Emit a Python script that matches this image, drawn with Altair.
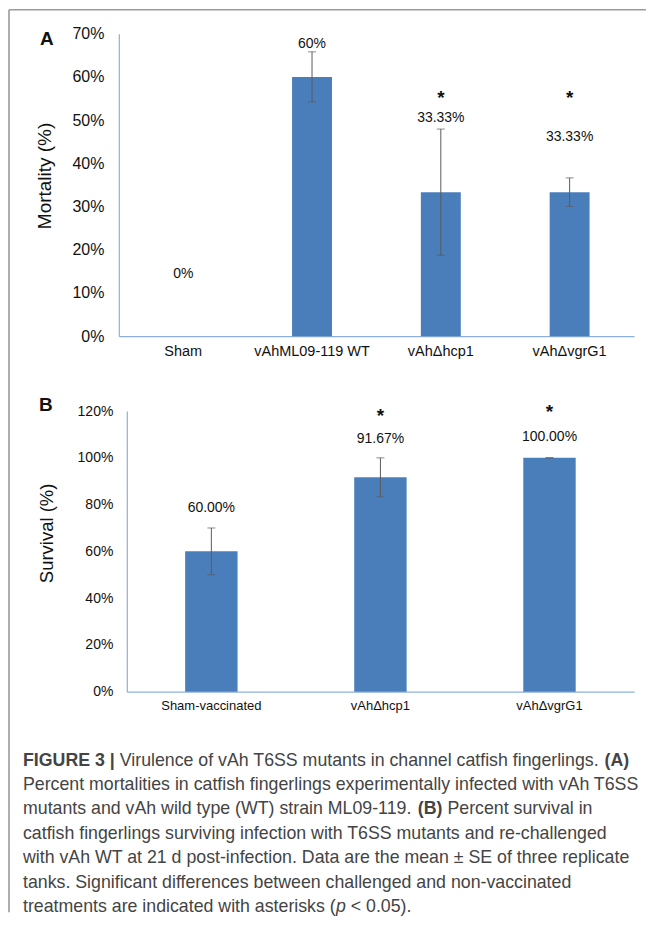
import altair as alt
import pandas as pd

# ---------------- data ----------------
a_groups = ["Sham", "vAhML09-119 WT", "vAh\u0394hcp1", "vAh\u0394vgrG1"]
a_mortality = [0.0, 60.0, 33.33, 33.33]
a_se = [0.0, 5.8, 14.6, 3.3]
a_labels = ["0%", "60%", "33.33%", "33.33%"]
a_label_at = [14.3, 67.7, 50.6, 46.0]
a_stars = ["", "", "*", "*"]
a_star_at = [0.0, 0.0, 55.0, 55.0]
a_ticks = [0, 10, 20, 30, 40, 50, 60, 70]

b_groups = ["Sham-vaccinated", "vAh\u0394hcp1", "vAh\u0394vgrG1"]
b_survival = [60.0, 91.67, 100.0]
b_se = [10.0, 8.33, 0.0]
b_labels = ["60.00%", "91.67%", "100.00%"]
b_label_at = [78.6, 108.0, 108.9]
b_stars = ["", "*", "*"]
b_star_at = [0.0, 118.0, 119.7]
b_ticks = [0, 20, 40, 60, 80, 100, 120]

caption_lines = [
    [("FIGURE 3 |", "b"), (" Virulence of vAh T6SS mutants in channel catfish fingerlings. ", "n"), ("(A)", "b")],
    [("Percent mortalities in catfish fingerlings experimentally infected with vAh T6SS", "n")],
    [("mutants and vAh wild type (WT) strain ML09-119. ", "n"), ("(B)", "b"), (" Percent survival in", "n")],
    [("catfish fingerlings surviving infection with T6SS mutants and re-challenged", "n")],
    [("with vAh WT at 21 d post-infection. Data are the mean \u00b1 SE of three replicate", "n")],
    [("tanks. Significant differences between challenged and non-vaccinated", "n")],
    [("treatments are indicated with asterisks (", "n"), ("p", "i"), (" < 0.05).", "n")],
]

# ---------------- styles ----------------
FONT = "Liberation Sans"
BAR = "#4a7ebb"
AXIS = "#8cb0dd"
ERR = "#5a5a5a"
FRAME = "#9a9a9a"
TXT = "#111111"
CAP_COLOR = "#444444"

# Arial / Helvetica advance widths (per 1000 em) used to lay out the caption runs
W_N = {' ': 278, '(': 333, ')': 333, ',': 278, '-': 333, '.': 278, '<': 584, '|': 260,
       '\u00b1': 584, '%': 889,
       'A': 667, 'B': 667, 'C': 722, 'D': 722, 'E': 667, 'F': 611, 'G': 778, 'H': 722,
       'I': 278, 'J': 500, 'K': 667, 'L': 556, 'M': 833, 'N': 722, 'O': 778, 'P': 667,
       'Q': 778, 'R': 722, 'S': 667, 'T': 611, 'U': 722, 'V': 667, 'W': 944, 'X': 667,
       'Y': 667, 'Z': 611,
       'a': 556, 'b': 556, 'c': 500, 'd': 556, 'e': 556, 'f': 278, 'g': 556, 'h': 556,
       'i': 222, 'j': 222, 'k': 500, 'l': 222, 'm': 833, 'n': 556, 'o': 556, 'p': 556,
       'q': 556, 'r': 333, 's': 500, 't': 278, 'u': 556, 'v': 500, 'w': 722, 'x': 500,
       'y': 500, 'z': 500}
for d in "0123456789":
    W_N[d] = 556
W_B = {' ': 278, '(': 333, ')': 333, '|': 280, '3': 556, 'A': 722, 'B': 722, 'E': 667,
       'F': 611, 'G': 778, 'I': 278, 'R': 722, 'U': 722}


def em(text, style="n"):
    table = W_B if style == "b" else W_N
    return sum(table.get(c, 556) for c in text) / 1000.0


CAP_LINE2_PX = 617.0
CAP_SIZE = CAP_LINE2_PX / em(caption_lines[1][0][0])
CAP_LEFT = -96  # caption left edge relative to the panel origin

rows = []
for li, segs in enumerate(caption_lines):
    cursor = 0.0
    for text, style in segs:
        lead = len(text) - len(text.lstrip(" "))
        x0 = cursor + em(text[:lead], style) * CAP_SIZE
        rows.append({"line": li, "x": CAP_LEFT + x0, "t": text.strip(" "), "style": style})
        cursor += em(text, style) * CAP_SIZE
capdf = pd.DataFrame(rows)

# ---------------- panel A ----------------
dfa = pd.DataFrame({"group": a_groups, "value": a_mortality, "se": a_se, "label": a_labels,
                    "label_at": a_label_at, "star": a_stars, "star_at": a_star_at})
dfa["lo"] = dfa["value"] - dfa["se"]
dfa["hi"] = dfa["value"] + dfa["se"]

xa = alt.X("group:N", sort=a_groups,
           scale=alt.Scale(paddingInner=0.69, paddingOuter=0.345),
           axis=alt.Axis(title=None, labelAngle=0, labelFont=FONT, labelFontSize=14.5,
                         labelColor=TXT, labelPadding=8, ticks=False, grid=False,
                         domainColor=AXIS, domainWidth=1.2))
axisA = alt.Axis(values=a_ticks, labelExpr="datum.value + '%'", title="Mortality (%)",
                 titleFont=FONT, titleFontSize=19, titleFontWeight="normal",
                 titleColor=TXT, titleX=-74, titleY=142, titleAngle=270,
                 titleAlign="center", titleBaseline="middle",
                 labelFont=FONT, labelFontSize=16, labelColor=TXT, labelPadding=15,
                 ticks=False, grid=False, domainColor=AXIS, domainWidth=1.2)
scaleA = alt.Scale(domain=[0, 70])


def ya(field):
    return alt.Y(field, scale=scaleA, axis=axisA, title="Mortality (%)")


baseA = alt.Chart(dfa)
barsA = baseA.mark_bar(color=BAR).encode(x=xa, y=ya("value:Q"))
errA = baseA.transform_filter("datum.value > 0").mark_rule(color=ERR, strokeWidth=1).encode(
    x=xa, y=ya("lo:Q"), y2="hi:Q")
capLoA = baseA.transform_filter("datum.value > 0").mark_tick(color=ERR, size=8, thickness=1).encode(
    x=xa, y=ya("lo:Q"))
capHiA = baseA.transform_filter("datum.value > 0").mark_tick(color=ERR, size=8, thickness=1).encode(
    x=xa, y=ya("hi:Q"))
labA = baseA.mark_text(font=FONT, fontSize=14, color=TXT, baseline="middle").encode(
    x=xa, y=ya("label_at:Q"), text="label:N")
starA = baseA.transform_filter("datum.star != ''").mark_text(
    font=FONT, fontSize=19, fontWeight="bold", color=TXT, baseline="middle").encode(
    x=xa, y=ya("star_at:Q"), text="star:N")
letterA = alt.Chart(pd.DataFrame({"t": ["A"]})).mark_text(
    font=FONT, fontSize=19, fontWeight="bold", color=TXT, baseline="middle").encode(
    x=alt.value(-72), y=alt.value(5), text="t:N")
frameTop = alt.Chart(pd.DataFrame({"k": [0]})).mark_rule(color=FRAME, strokeWidth=1.6).encode(
    x=alt.value(-110), x2=alt.value(528), y=alt.value(-24))
frameLeft = alt.Chart(pd.DataFrame({"k": [0]})).mark_rule(color=FRAME, strokeWidth=1.6).encode(
    x=alt.value(-110), y=alt.value(-24), y2=alt.value(880))

panelA = alt.layer(barsA, errA, capLoA, capHiA, labA, starA, letterA, frameTop, frameLeft
                   ).properties(width=516, height=303)

# ---------------- panel B ----------------
dfb = pd.DataFrame({"group": b_groups, "value": b_survival, "se": b_se, "label": b_labels,
                    "label_at": b_label_at, "star": b_stars, "star_at": b_star_at})
dfb["lo"] = dfb["value"] - dfb["se"]
dfb["hi"] = dfb["value"] + dfb["se"]

xb = alt.X("group:N", sort=b_groups,
           scale=alt.Scale(range=[8, 516], paddingInner=0.69, paddingOuter=0.345),
           axis=alt.Axis(title=None, labelAngle=0, labelFont=FONT, labelFontSize=13,
                         labelColor=TXT, labelPadding=8, ticks=False, grid=False,
                         domainColor=AXIS, domainWidth=1.2))
axisB = alt.Axis(values=b_ticks, labelExpr="datum.value + '%'", title="Survival (%)",
                 titleFont=FONT, titleFontSize=18.5, titleFontWeight="normal",
                 titleColor=TXT, titleX=-80, titleY=122, titleAngle=270,
                 titleAlign="center", titleBaseline="middle", offset=-8,
                 labelFont=FONT, labelFontSize=14, labelColor=TXT, labelPadding=14,
                 ticks=False, grid=False, domainColor=AXIS, domainWidth=1.2)
scaleB = alt.Scale(domain=[0, 120])


def yb(field):
    return alt.Y(field, scale=scaleB, axis=axisB, title="Survival (%)")


baseB = alt.Chart(dfb)
barsB = baseB.mark_bar(color=BAR).encode(x=xb, y=yb("value:Q"))
errB = baseB.mark_rule(color=ERR, strokeWidth=1).encode(x=xb, y=yb("lo:Q"), y2="hi:Q")
capLoB = baseB.mark_tick(color=ERR, size=8, thickness=1).encode(x=xb, y=yb("lo:Q"))
capHiB = baseB.mark_tick(color=ERR, size=8, thickness=1).encode(x=xb, y=yb("hi:Q"))
labB = baseB.mark_text(font=FONT, fontSize=14, color=TXT, baseline="middle").encode(
    x=xb, y=yb("label_at:Q"), text="label:N")
starB = baseB.transform_filter("datum.star != ''").mark_text(
    font=FONT, fontSize=19, fontWeight="bold", color=TXT, baseline="middle").encode(
    x=xb, y=yb("star_at:Q"), text="star:N")
letterB = alt.Chart(pd.DataFrame({"t": ["B"]})).mark_text(
    font=FONT, fontSize=19, fontWeight="bold", color=TXT, baseline="middle").encode(
    x=alt.value(-73), y=alt.value(-6), text="t:N")

panelB = alt.layer(barsB, errB, capLoB, capHiB, labB, starB, letterB).properties(width=516, height=281)

# ---------------- caption ----------------
capBase = alt.Chart(capdf)
cx = alt.X("x:Q", scale=None)
cy = alt.Y("line:Q", scale=alt.Scale(domain=[0, 6], reverse=True), axis=None)
capN = capBase.transform_filter("datum.style == 'n'").mark_text(
    font=FONT, fontSize=CAP_SIZE, color=CAP_COLOR, align="left", baseline="middle", dy=-6
).encode(x=cx, y=cy, text="t:N")
capB = capBase.transform_filter("datum.style == 'b'").mark_text(
    font=FONT, fontSize=CAP_SIZE, fontWeight="bold", color=CAP_COLOR, align="left",
    baseline="middle", dy=-6).encode(x=cx, y=cy, text="t:N")
capI = capBase.transform_filter("datum.style == 'i'").mark_text(
    font=FONT, fontSize=CAP_SIZE, fontStyle="italic", color=CAP_COLOR, align="left",
    baseline="middle", dy=-6).encode(x=cx, y=cy, text="t:N")
caption = alt.layer(capN, capB, capI).properties(width=516, height=147)

chart = alt.vconcat(panelA, panelB, caption, spacing=75, bounds="flush").properties(
    padding=0).configure_view(stroke=None)

chart.save("out.html", embed_options={"renderer": "svg", "actions": False})
